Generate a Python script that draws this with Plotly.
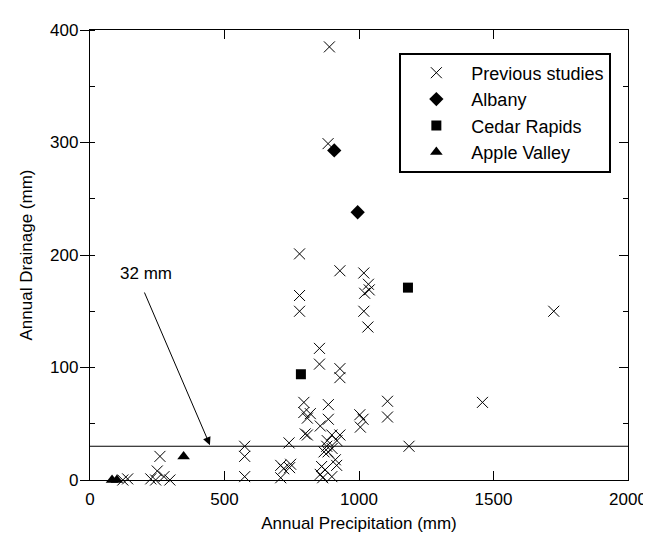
import plotly.graph_objects as go

# Previous studies (x markers)
prev_x = [890, 885, 779, 929, 1018, 1035, 1038, 1021, 779, 779, 1018, 1724, 1033,
          853, 853, 929, 929, 1459, 1106, 1106, 795, 886, 795, 819, 808, 886, 1003,
          1015, 1005, 856, 800, 808, 899, 929, 882, 918, 740, 1186, 575, 575, 575,
          880, 900, 870, 885, 912, 917, 861, 874, 856, 899, 865, 709, 746, 720, 742,
          709, 260, 250, 226, 244, 275, 297, 122, 140]
prev_y = [385, 299, 201, 186, 184, 174, 169, 166, 164, 150, 150, 150, 136,
          117, 103, 99, 91, 69, 70, 56, 69, 67, 60, 59, 55, 54, 58,
          54, 47, 48, 41, 40, 40, 40, 35, 35, 33, 30, 30, 21, 3,
          30, 28, 25, 25, 18, 13, 12, 9, 5, 3, 2, 13, 14, 10, 11,
          2, 21, 8, 1, 0, 3, 0, 0, 1]

albany_x = [908, 995]
albany_y = [293, 238]

cedar_x = [1182, 784]
cedar_y = [171, 94]

apple_x = [82, 100, 348]
apple_y = [0, 0, 21]

threshold = 30
x_ticks = [0, 500, 1000, 1500, 2000]
y_ticks = [0, 100, 200, 300, 400]

FONT = "Liberation Sans, Arial, sans-serif"
FS = 17

fig = go.Figure()
fig.add_trace(go.Scatter(x=prev_x, y=prev_y, mode="markers", name="Previous studies",
                         marker=dict(symbol="x-thin-open", size=11, color="black",
                                     line=dict(width=1, color="black")),
                         cliponaxis=False))
fig.add_trace(go.Scatter(x=albany_x, y=albany_y, mode="markers", name="Albany",
                         marker=dict(symbol="diamond", size=11, color="black"),
                         cliponaxis=False))
fig.add_trace(go.Scatter(x=cedar_x, y=cedar_y, mode="markers", name="Cedar Rapids",
                         marker=dict(symbol="square", size=10, color="black"),
                         cliponaxis=False))
fig.add_trace(go.Scatter(x=apple_x, y=apple_y, mode="markers", name="Apple Valley",
                         marker=dict(symbol="triangle-up", size=11, color="black"),
                         cliponaxis=False))

# threshold line
fig.add_shape(type="line", xref="x", yref="y", x0=0, x1=2000, y0=threshold, y1=threshold,
              line=dict(color="black", width=1.2))

fig.add_annotation(x=446, y=threshold + 1, ax=200, ay=168, xref="x", yref="y",
                   axref="x", ayref="y", showarrow=True, arrowhead=2, arrowsize=1.6,
                   arrowwidth=1, arrowcolor="black", text="")
fig.add_annotation(x=210, y=184, xref="x", yref="y", text="32 mm", showarrow=False,
                   font=dict(family=FONT, size=FS, color="black"))

fig.update_layout(
    width=651, height=533,
    margin=dict(l=82, r=24, t=22, b=52),
    paper_bgcolor="white", plot_bgcolor="white",
    font=dict(family=FONT, size=FS, color="black"),
    showlegend=True,
    legend=dict(x=0.575, y=0.95, xanchor="left", yanchor="top",
                bordercolor="black", borderwidth=2, bgcolor="white",
                font=dict(family=FONT, size=18, color="black"),
                itemwidth=60),
    xaxis=dict(range=[0, 2000], tickvals=x_ticks, ticks="inside", ticklen=9,
               tickcolor="black", showline=True, linecolor="black", linewidth=1.3,
               showgrid=False, zeroline=False, ticklabelstandoff=3,
               tickfont=dict(family=FONT, size=FS),
               title=dict(text="Annual Precipitation (mm)", standoff=9,
                          font=dict(family=FONT, size=FS))),
    yaxis=dict(range=[0, 400], tickvals=y_ticks, ticks="outside", ticklen=9,
               tickcolor="black", showline=True, linecolor="black", linewidth=1.3,
               showgrid=False, zeroline=False, ticklabelstandoff=-2,
               tickfont=dict(family=FONT, size=FS),
               minor=dict(ticks="inside", ticklen=5, dtick=50, tickcolor="black",
                          showgrid=False),
               title=dict(text="Annual Drainage (mm)", standoff=13,
                          font=dict(family=FONT, size=FS))),
    xaxis2=dict(range=[0, 2000], overlaying="x", side="top", tickvals=x_ticks,
                ticks="inside", ticklen=9, tickcolor="black", showticklabels=False,
                showline=True, linecolor="black", linewidth=1.3, showgrid=False,
                zeroline=False),
    yaxis2=dict(range=[0, 400], overlaying="y", side="right", tickvals=y_ticks,
                ticks="inside", ticklen=9, tickcolor="black", showticklabels=False,
                showline=True, linecolor="black", linewidth=1.3, showgrid=False,
                zeroline=False,
                minor=dict(ticks="inside", ticklen=5, dtick=50, tickcolor="black",
                           showgrid=False)),
)
# invisible trace to activate the mirrored top/right axes
fig.add_trace(go.Scatter(x=[0], y=[0], xaxis="x2", yaxis="y2", mode="markers",
                         marker=dict(opacity=0), showlegend=False, hoverinfo="skip"))

fig.write_html("out.html")
